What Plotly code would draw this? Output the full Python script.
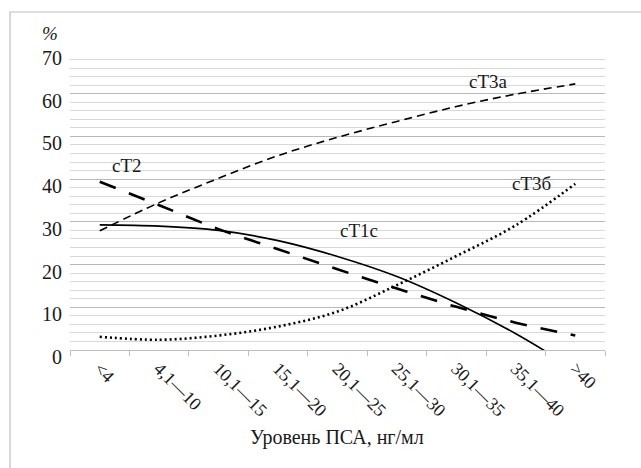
import plotly.graph_objects as go

categories = ["<4", "4,1—10", "10,1—15", "15,1—20", "20,1—25",
              "25,1—30", "30,1—35", "35,1—40", ">40"]
ct1c = [29.3, 29.0, 28.0, 25.6, 21.9, 17.2, 11.0, 3.8, -4.6]
ct2 = [39.4, 33.9, 28.3, 23.6, 18.9, 14.4, 10.1, 6.4, 3.4]
ct3a = [27.9, 34.5, 40.2, 45.5, 49.8, 53.5, 57.0, 59.9, 62.3]
ct3b = [3.1, 2.4, 3.4, 5.5, 9.0, 15.2, 22.0, 29.2, 38.9]

series_names = ["сТ1с", "сТ2", "сТ3а", "сТ3б"]
y_ticks = [0, 10, 20, 30, 40, 50, 60, 70]

FONT = "Liberation Serif"
fig = go.Figure()

fig.add_trace(go.Scatter(x=categories, y=ct3a, mode="lines", name=series_names[2],
                         line=dict(color="black", width=1.6, dash="8px,5px", shape="spline")))
fig.add_trace(go.Scatter(x=categories, y=ct2, mode="lines", name=series_names[1],
                         line=dict(color="black", width=2.6, dash="17px,14px", shape="spline")))
fig.add_trace(go.Scatter(x=categories, y=ct1c, mode="lines", name=series_names[0],
                         line=dict(color="black", width=1.6, shape="spline")))
fig.add_trace(go.Scatter(x=categories, y=ct3b, mode="lines", name=series_names[3],
                         line=dict(color="black", width=2.6, dash="2px,3px", shape="spline")))

def px_x(p):
    return (p - 70) / 535.3

def px_y(p):
    return (350 - p) / 299.0

labels = [
    (series_names[1], 127.5, 165),
    (series_names[2], 489, 81),
    (series_names[3], 531.5, 183.5),
    (series_names[0], 359.5, 230.7),
]
annotations = []
for txt, x, y in labels:
    annotations.append(dict(text=txt, x=px_x(x), y=px_y(y), xref="paper", yref="paper",
                            showarrow=False, xanchor="center", yanchor="middle",
                            font=dict(family=FONT, size=19, color="#1a1a1a")))
annotations.append(dict(text="<i>%</i>", x=px_x(50), y=px_y(33), xref="paper", yref="paper",
                        showarrow=False, xanchor="center", yanchor="middle",
                        font=dict(family=FONT, size=19, color="#1a1a1a")))
annotations.append(dict(text="Уровень ПСА, нг/мл", x=px_x(337), y=px_y(437), xref="paper",
                        yref="paper", showarrow=False, xanchor="center", yanchor="middle",
                        font=dict(family=FONT, size=20, color="#1a1a1a")))

fig.update_layout(
    width=641, height=468,
    margin=dict(l=70, r=36, t=51, b=118),
    paper_bgcolor="white", plot_bgcolor="white",
    showlegend=False,
    hovermode=False,
    annotations=annotations,
    shapes=[dict(type="rect", xref="paper", yref="paper",
                 x0=px_x(10), x1=px_x(700), y0=px_y(520), y1=px_y(12),
                 line=dict(color="#bdbdbd", width=1.2), layer="below")],
    xaxis=dict(type="category", range=[-0.5, 8.5], tickson="boundaries", ticks="outside",
               ticklen=5, tickcolor="#bfbfbf", showline=True, linecolor="#bfbfbf",
               linewidth=1, showgrid=False, tickangle=45,
               tickfont=dict(family=FONT, size=18, color="#1a1a1a")),
    yaxis=dict(range=[0, 70], tickvals=y_ticks, showgrid=True, gridcolor="#b8b8b8",
               gridwidth=1, zeroline=False, showline=False, ticks="",
               ticklabelshift=7, ticklabelstandoff=7,
               minor=dict(dtick=2, showgrid=True, gridcolor="#d9d9d9", gridwidth=1),
               tickfont=dict(family=FONT, size=20, color="#1a1a1a")),
)

fig.write_html("out.html", config={"displayModeBar": False, "staticPlot": True},
               post_script="document.body.style.margin='0px';")
